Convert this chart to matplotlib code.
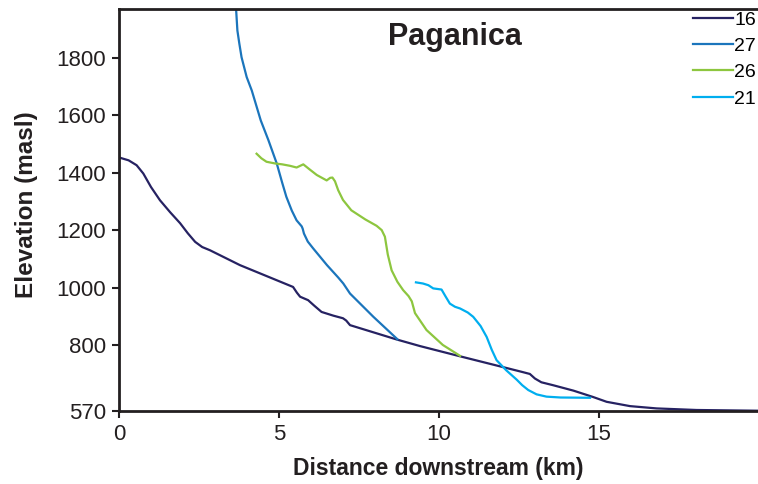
import numpy as np
import matplotlib; matplotlib.use("Agg"); import matplotlib.pyplot as plt

plt.rcParams['font.family'] = ['Liberation Sans', 'DejaVu Sans']

# river long profiles, distance (km) vs elevation (masl)
x16 = [0.0, 0.3, 0.55, 0.76, 1.0, 1.28, 1.6, 1.91, 2.15, 2.38, 2.6, 2.84, 3.78, 5.44, 5.56,
       5.66, 5.91, 6.1, 6.33, 6.7, 7.0, 7.1, 7.22, 7.6, 8.68, 9.41, 10.71, 11.96, 12.6,
       12.84, 13.0, 13.2, 13.56, 14.2, 14.81, 15.24, 15.97, 16.8, 18.05, 19.97]
y16 = [1453, 1443, 1426, 1397, 1350, 1304, 1262, 1224, 1189, 1159, 1141, 1130, 1078, 1002, 982,
       968, 956, 937, 915, 902, 893, 885, 869, 856, 819, 796, 759, 724, 706,
       699, 683, 670, 660, 641, 619, 602, 587, 579, 573.5, 571]

x27 = [3.66, 3.70, 3.76, 3.83, 3.99, 4.15, 4.43, 4.67, 4.93, 5.1, 5.23, 5.4, 5.55, 5.71,
       5.74, 5.78, 5.9, 6.07, 6.5, 6.85, 7.01, 7.22, 7.95, 8.7]
y27 = [1968, 1895, 1850, 1802, 1733, 1686, 1582, 1513, 1432, 1365, 1316, 1268, 1234, 1213,
       1205, 1188, 1160, 1136, 1078, 1035, 1014, 979, 898, 820]

x26 = [4.30, 4.45, 4.61, 4.88, 5.1, 5.34, 5.55, 5.76, 5.95, 6.18, 6.49, 6.6, 6.67, 6.75,
       6.85, 7.0, 7.26, 7.7, 8.05, 8.21, 8.31, 8.4, 8.52, 8.7, 8.88, 9.05, 9.15,
       9.25, 9.61, 10.12, 10.66]
y26 = [1466, 1450, 1438, 1432, 1429, 1424, 1418, 1429, 1412, 1392, 1373, 1382, 1383, 1370,
       1339, 1305, 1269, 1237, 1215, 1200, 1177, 1115, 1060, 1020, 991, 970, 952,
       911, 852, 800, 762]

x21 = [9.28, 9.5, 9.67, 9.82, 10.08, 10.2, 10.34, 10.5, 10.66, 10.9, 11.07, 11.3, 11.49,
       11.65, 11.8, 12.1, 12.43, 12.6, 12.79, 13.05, 13.36, 13.8, 14.72]
y21 = [1018, 1014, 1008, 997, 993, 970, 944, 933, 927, 913, 898, 866, 828,
       783, 747, 712, 679, 660, 643, 628, 620, 617, 616]

names = ["16", "27", "26", "21"]
colors = ["#262262", "#1b75bc", "#8dc63f", "#00aeef"]
xs_all = [x16, x27, x26, x21]
ys_all = [y16, y27, y26, y21]

fig = plt.figure(figsize=(7.58, 4.84), dpi=100)
ax = fig.add_axes([119/758, 1-411/484, 1-119/758, (411-9)/484])
for name, xs, ys, c in zip(names, xs_all, ys_all, colors):
    ax.plot(xs, ys, color=c, lw=1.6, label=name, solid_joinstyle="round")

ax.set_xlim(0, 19.97); ax.set_ylim(570, 1970)
ax.set_xticks([0, 5, 10, 15])
ax.set_yticks([570, 800, 1000, 1200, 1400, 1600, 1800])
ax.tick_params(labelsize=16, length=5, width=1.5, color="#231f20", labelcolor="#231f20", pad=4.5)
for s in ["left", "bottom", "top"]:
    ax.spines[s].set_linewidth(2); ax.spines[s].set_color("#231f20")
ax.spines["right"].set_visible(False)
ax.set_xlabel("Distance downstream (km)", fontsize=16.5, fontweight="bold", color="#231f20")
ax.set_ylabel("Elevation (masl)", fontsize=17.5, fontweight="bold", color="#231f20")
ax.xaxis.set_label_coords(0.5, -(457-411)/402)
ax.yaxis.set_label_coords((38-119)/639, (411-205)/402)
ax.text((455-119)/639, (411-45)/402, "Paganica", transform=ax.transAxes, ha="center",
        va="baseline", fontsize=22, fontweight="bold", color="#231f20")
leg = ax.legend(loc="upper right", frameon=False, fontsize=14, handlelength=2.05,
                handletextpad=0.05, labelspacing=0.45, borderaxespad=0, borderpad=0.1)
fig.savefig("out.png", dpi=100)
